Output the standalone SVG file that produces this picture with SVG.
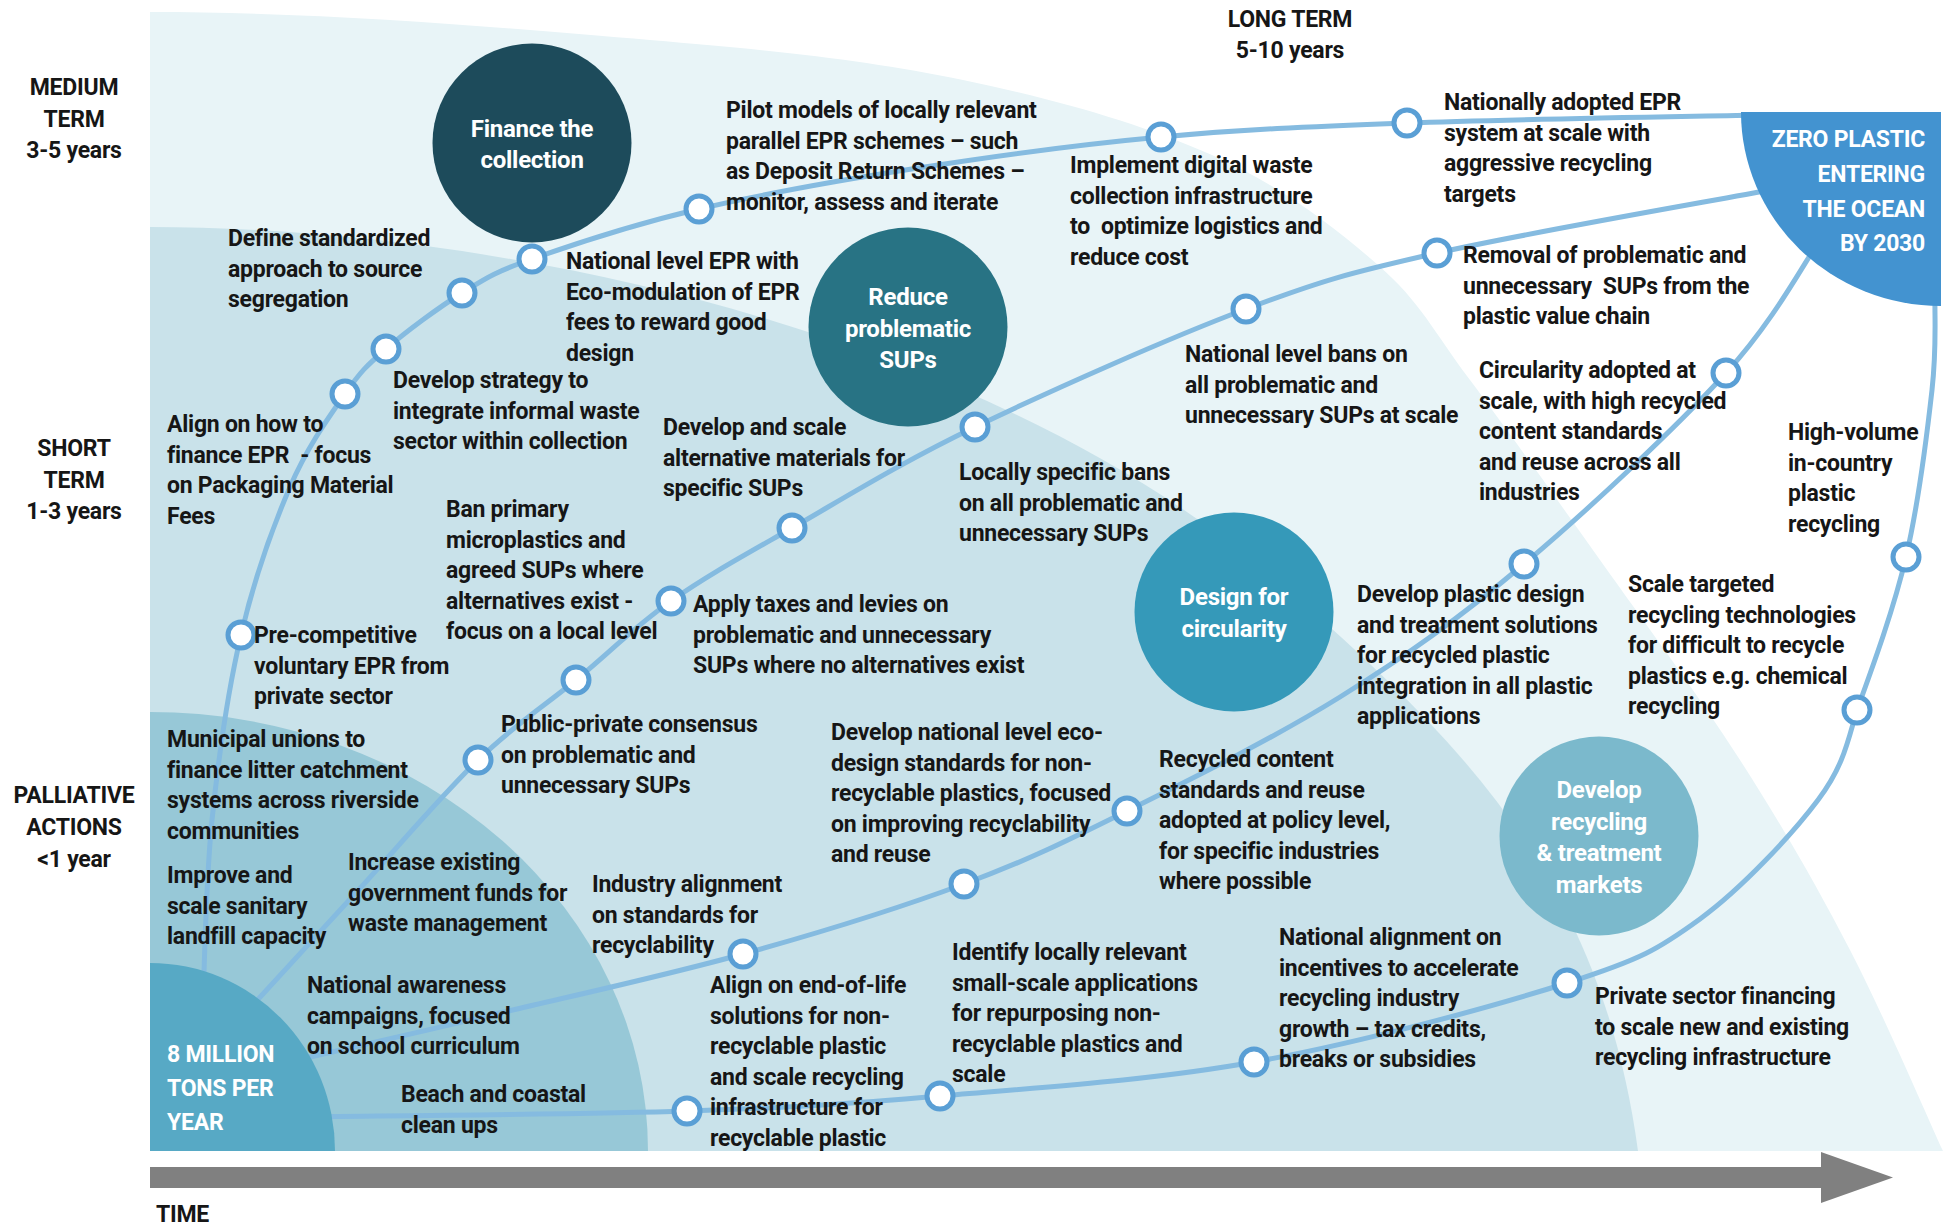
<svg xmlns="http://www.w3.org/2000/svg" width="1950" height="1227" viewBox="0 0 1950 1227">
<style>
text{font-family:"Roboto","Liberation Sans",sans-serif;font-weight:700;font-size:23px;fill:#161616;letter-spacing:-0.25px}
.w{fill:#ffffff}
.mid{text-anchor:middle}
.end{text-anchor:end}
.big{font-size:24px}
.conn{fill:none;stroke:#85bbe0;stroke-width:5;stroke-linecap:round}
.dot{fill:#ffffff;stroke:#5a9fd5;stroke-width:5}
</style>
<rect width="1950" height="1227" fill="#ffffff"/>
<g id="background">
<path d="M150,1151 L150,12 C333,12 514.5,28.7 650,40 C785.5,51.3 869.3,60.8 963,80 C1056.7,99.2 1142.8,124.2 1212,155 C1281.2,185.8 1335,227.5 1378,265 C1421,302.5 1433,330.8 1470,380 C1507,429.2 1555,496.7 1600,560 C1645,623.3 1698.3,695 1740,760 C1781.7,825 1816.2,884.8 1850,950 C1883.8,1015.2 1927.5,1117.5 1943,1151 Z" fill="#e8f4f7"/>
<path d="M150,1151 L150,227 C500,227 1000,330 1300,600 C1450,735 1600,870 1638,1151 Z" fill="#c9e2ea"/>
<path d="M150,1151 L150,712 A498,439 0 0 1 648,1151 Z" fill="#97c8d7"/>
</g>
<g id="connectors">
<path class="conn" d="M203,1000 C204.5,970 205.7,880.8 212,820 C218.3,759.2 228,690.5 241,635 C254,579.5 272.7,527.2 290,487 C307.3,446.8 329,417 345,394 C361,371 366.5,365.8 386,349 C405.5,332.2 437.7,308 462,293 C486.3,278 492.5,273 532,259 C571.5,245 634.7,224.2 699,209 C763.3,193.8 841,180 918,168 C995,156 1079.5,144.5 1161,137 C1242.5,129.5 1307.2,126.7 1407,123 C1506.8,119.3 1701.2,116.3 1760,115"/>
<path class="conn" d="M228,1032 C248.8,1009.3 311.3,941.3 353,896 C394.7,850.7 440.8,796 478,760 C515.2,724 543.8,706.5 576,680 C608.2,653.5 635,626.3 671,601 C707,575.7 741.3,557 792,528 C842.7,499 899.3,463.5 975,427 C1050.7,390.5 1169,338 1246,309 C1323,280 1349.7,272.8 1437,253 C1524.3,233.2 1714.5,200.5 1770,190"/>
<path class="conn" d="M280,1064 C316.7,1055.5 422.8,1031.3 500,1013 C577.2,994.7 665.7,975.5 743,954 C820.3,932.5 900,907.8 964,884 C1028,860.2 1064.3,842.2 1127,811 C1189.7,779.8 1273.8,738.2 1340,697 C1406.2,655.8 1459.7,618 1524,564 C1588.3,510 1676.7,427 1726,373 C1775.3,319 1804.3,262.2 1820,240"/>
<path class="conn" d="M300,1117 C364.5,1116 580.3,1114.5 687,1111 C793.7,1107.5 845.5,1104.2 940,1096 C1034.5,1087.8 1149.5,1080.8 1254,1062 C1358.5,1043.2 1492.7,1006.8 1567,983 C1641.3,959.2 1658.2,949.5 1700,919 C1741.8,888.5 1791.8,834.8 1818,800 C1844.2,765.2 1848,740 1857,710 C1871.7,669.5 1893.5,610.3 1906,557 C1918.5,503.7 1927.2,432.8 1932,390 C1936.8,347.2 1934.5,315 1935,300"/>
</g>
<g id="start-8-million">
<path d="M150,1151 L150,963 A185,188 0 0 1 335,1151 Z" fill="#57a9c5"/>
<text class="w" x="167" y="1062">8 MILLION<tspan x="167" dy="34">TONS PER</tspan><tspan x="167" dy="34">YEAR</tspan></text>
</g>
<g id="goal-zero-plastic">
<path d="M1741,112 L1941,112 L1941,306 A200,194 0 0 1 1741,112 Z" fill="#4393d0"/>
<text class="w end" x="1925" y="147">ZERO PLASTIC<tspan x="1925" dy="35">ENTERING</tspan><tspan x="1925" dy="35">THE OCEAN</tspan><tspan x="1925" dy="34">BY 2030</tspan></text>
</g>
<g id="finance-the-collection">
<circle cx="532" cy="143" r="99.5" fill="#1d4b5b"/>
<text class="w mid big" x="532" y="137">Finance the<tspan x="532" dy="31">collection</tspan></text>
</g>
<g id="reduce-problematic-sups">
<circle cx="908" cy="327" r="99.5" fill="#287384"/>
<text class="w mid big" x="908" y="305">Reduce<tspan x="908" dy="31.5">problematic</tspan><tspan x="908" dy="31.5">SUPs</tspan></text>
</g>
<g id="design-for-circularity">
<circle cx="1234" cy="612" r="99.5" fill="#3599b9"/>
<text class="w mid big" x="1234" y="605">Design for<tspan x="1234" dy="31.5">circularity</tspan></text>
</g>
<g id="develop-recycling-markets">
<circle cx="1599" cy="836" r="99.5" fill="#7bb9cc"/>
<text class="w mid big" x="1599" y="798">Develop<tspan x="1599" dy="31.5">recycling</tspan><tspan x="1599" dy="31.5">&amp; treatment</tspan><tspan x="1599" dy="31.5">markets</tspan></text>
</g>
<g id="m-precompetitive">
<circle class="dot" cx="241" cy="635" r="13"/>
<text x="254" y="643">Pre-competitive<tspan x="254" dy="30.5">voluntary EPR from</tspan><tspan x="254" dy="30.5">private sector</tspan></text>
</g>
<g id="m-align-finance-epr">
<circle class="dot" cx="345" cy="394" r="13"/>
<text x="167" y="432">Align on how to<tspan x="167" dy="30.5" xml:space="preserve">finance EPR  - focus</tspan><tspan x="167" dy="30.5">on Packaging Material</tspan><tspan x="167" dy="30.5">Fees</tspan></text>
</g>
<g id="m-informal-sector">
<circle class="dot" cx="386" cy="349" r="13"/>
<text x="393" y="388">Develop strategy to<tspan x="393" dy="30.5">integrate informal waste</tspan><tspan x="393" dy="30.5">sector within collection</tspan></text>
</g>
<g id="m-source-segregation">
<circle class="dot" cx="462" cy="293" r="13"/>
<text x="228" y="246">Define standardized<tspan x="228" dy="30.5">approach to source</tspan><tspan x="228" dy="30.5">segregation</tspan></text>
</g>
<g id="m-national-epr">
<circle class="dot" cx="532" cy="259" r="13"/>
<text x="566" y="269">National level EPR with<tspan x="566" dy="30.5">Eco-modulation of EPR</tspan><tspan x="566" dy="30.5">fees to reward good</tspan><tspan x="566" dy="30.5">design</tspan></text>
</g>
<g id="m-pilot-models">
<circle class="dot" cx="699" cy="209" r="13"/>
<text x="726" y="118">Pilot models of locally relevant<tspan x="726" dy="30.5">parallel EPR schemes – such</tspan><tspan x="726" dy="30.5">as Deposit Return Schemes –</tspan><tspan x="726" dy="30.5">monitor, assess and iterate</tspan></text>
</g>
<g id="m-digital-collection">
<circle class="dot" cx="1161" cy="137" r="13"/>
<text x="1070" y="173">Implement digital waste<tspan x="1070" dy="30.5">collection infrastructure</tspan><tspan x="1070" dy="30.5" xml:space="preserve">to  optimize logistics and</tspan><tspan x="1070" dy="30.5">reduce cost</tspan></text>
</g>
<g id="m-national-epr-scale">
<circle class="dot" cx="1407" cy="123" r="13"/>
<text x="1444" y="110">Nationally adopted EPR<tspan x="1444" dy="30.5">system at scale with</tspan><tspan x="1444" dy="30.5">aggressive recycling</tspan><tspan x="1444" dy="30.5">targets</tspan></text>
</g>
<g id="m-public-private">
<circle class="dot" cx="478" cy="760" r="13"/>
<text x="501" y="732">Public-private consensus<tspan x="501" dy="30.5">on problematic and</tspan><tspan x="501" dy="30.5">unnecessary SUPs</tspan></text>
</g>
<g id="m-ban-microplastics">
<circle class="dot" cx="576" cy="680" r="13"/>
<text x="446" y="517">Ban primary<tspan x="446" dy="30.5">microplastics and</tspan><tspan x="446" dy="30.5">agreed SUPs where</tspan><tspan x="446" dy="30.5">alternatives exist -</tspan><tspan x="446" dy="30.5">focus on a local level</tspan></text>
</g>
<g id="m-taxes-levies">
<circle class="dot" cx="671" cy="601" r="13"/>
<text x="693" y="612">Apply taxes and levies on<tspan x="693" dy="30.5">problematic and unnecessary</tspan><tspan x="693" dy="30.5">SUPs where no alternatives exist</tspan></text>
</g>
<g id="m-alternative-materials">
<circle class="dot" cx="792" cy="528" r="13"/>
<text x="663" y="435">Develop and scale<tspan x="663" dy="30.5">alternative materials for</tspan><tspan x="663" dy="30.5">specific SUPs</tspan></text>
</g>
<g id="m-local-bans">
<circle class="dot" cx="975" cy="427" r="13"/>
<text x="959" y="480">Locally specific bans<tspan x="959" dy="30.5">on all problematic and</tspan><tspan x="959" dy="30.5">unnecessary SUPs</tspan></text>
</g>
<g id="m-national-bans">
<circle class="dot" cx="1246" cy="309" r="13"/>
<text x="1185" y="362">National level bans on<tspan x="1185" dy="30.5">all problematic and</tspan><tspan x="1185" dy="30.5">unnecessary SUPs at scale</tspan></text>
</g>
<g id="m-removal-sups">
<circle class="dot" cx="1437" cy="253" r="13"/>
<text x="1463" y="263">Removal of problematic and<tspan x="1463" dy="30.5" xml:space="preserve">unnecessary  SUPs from the</tspan><tspan x="1463" dy="30.5">plastic value chain</tspan></text>
</g>
<g id="m-industry-alignment">
<circle class="dot" cx="743" cy="954" r="13"/>
<text x="592" y="892">Industry alignment<tspan x="592" dy="30.5">on standards for</tspan><tspan x="592" dy="30.5">recyclability</tspan></text>
</g>
<g id="m-eco-design">
<circle class="dot" cx="964" cy="884" r="13"/>
<text x="831" y="740">Develop national level eco-<tspan x="831" dy="30.5">design standards for non-</tspan><tspan x="831" dy="30.5">recyclable plastics, focused</tspan><tspan x="831" dy="30.5">on improving recyclability</tspan><tspan x="831" dy="30.5">and reuse</tspan></text>
</g>
<g id="m-recycled-content">
<circle class="dot" cx="1127" cy="811" r="13"/>
<text x="1159" y="767">Recycled content<tspan x="1159" dy="30.5">standards and reuse</tspan><tspan x="1159" dy="30.5">adopted at policy level,</tspan><tspan x="1159" dy="30.5">for specific industries</tspan><tspan x="1159" dy="30.5">where possible</tspan></text>
</g>
<g id="m-plastic-design">
<circle class="dot" cx="1524" cy="564" r="13"/>
<text x="1357" y="602">Develop plastic design<tspan x="1357" dy="30.5">and treatment solutions</tspan><tspan x="1357" dy="30.5">for recycled plastic</tspan><tspan x="1357" dy="30.5">integration in all plastic</tspan><tspan x="1357" dy="30.5">applications</tspan></text>
</g>
<g id="m-circularity-scale">
<circle class="dot" cx="1726" cy="373" r="13"/>
<text x="1479" y="378">Circularity adopted at<tspan x="1479" dy="30.5">scale, with high recycled</tspan><tspan x="1479" dy="30.5">content standards</tspan><tspan x="1479" dy="30.5">and reuse across all</tspan><tspan x="1479" dy="30.5">industries</tspan></text>
</g>
<g id="m-end-of-life">
<circle class="dot" cx="687" cy="1111" r="13"/>
<text x="710" y="993">Align on end-of-life<tspan x="710" dy="30.5">solutions for non-</tspan><tspan x="710" dy="30.5">recyclable plastic</tspan><tspan x="710" dy="30.5">and scale recycling</tspan><tspan x="710" dy="30.5">infrastructure for</tspan><tspan x="710" dy="30.5">recyclable plastic</tspan></text>
</g>
<g id="m-small-scale">
<circle class="dot" cx="940" cy="1096" r="13"/>
<text x="952" y="960">Identify locally relevant<tspan x="952" dy="30.5">small-scale applications</tspan><tspan x="952" dy="30.5">for repurposing non-</tspan><tspan x="952" dy="30.5">recyclable plastics and</tspan><tspan x="952" dy="30.5">scale</tspan></text>
</g>
<g id="m-incentives">
<circle class="dot" cx="1254" cy="1062" r="13"/>
<text x="1279" y="945">National alignment on<tspan x="1279" dy="30.5">incentives to accelerate</tspan><tspan x="1279" dy="30.5">recycling industry</tspan><tspan x="1279" dy="30.5">growth – tax credits,</tspan><tspan x="1279" dy="30.5">breaks or subsidies</tspan></text>
</g>
<g id="m-private-financing">
<circle class="dot" cx="1567" cy="983" r="13"/>
<text x="1595" y="1004">Private sector financing<tspan x="1595" dy="30.5">to scale new and existing</tspan><tspan x="1595" dy="30.5">recycling infrastructure</tspan></text>
</g>
<g id="m-targeted-recycling">
<circle class="dot" cx="1857" cy="710" r="13"/>
<text x="1628" y="592">Scale targeted<tspan x="1628" dy="30.5">recycling technologies</tspan><tspan x="1628" dy="30.5">for difficult to recycle</tspan><tspan x="1628" dy="30.5">plastics e.g. chemical</tspan><tspan x="1628" dy="30.5">recycling</tspan></text>
</g>
<g id="m-high-volume">
<circle class="dot" cx="1906" cy="557" r="13"/>
<text x="1788" y="440">High-volume<tspan x="1788" dy="30.5">in-country</tspan><tspan x="1788" dy="30.5">plastic</tspan><tspan x="1788" dy="30.5">recycling</tspan></text>
</g>
<g id="palliative-actions">
<text x="167" y="747">Municipal unions to<tspan x="167" dy="30.5">finance litter catchment</tspan><tspan x="167" dy="30.5">systems across riverside</tspan><tspan x="167" dy="30.5">communities</tspan></text>
<text x="167" y="883">Improve and<tspan x="167" dy="30.5">scale sanitary</tspan><tspan x="167" dy="30.5">landfill capacity</tspan></text>
<text x="348" y="870">Increase existing<tspan x="348" dy="30.5">government funds for</tspan><tspan x="348" dy="30.5">waste management</tspan></text>
<text x="307" y="993">National awareness<tspan x="307" dy="30.5">campaigns, focused</tspan><tspan x="307" dy="30.5">on school curriculum</tspan></text>
<text x="401" y="1102">Beach and coastal<tspan x="401" dy="30.5">clean ups</tspan></text>
</g>
<g id="timeline-labels">
<text class="mid" x="74" y="95">MEDIUM<tspan x="74" dy="31.5">TERM</tspan><tspan x="74" dy="31.5">3-5 years</tspan></text>
<text class="mid" x="74" y="456">SHORT<tspan x="74" dy="31.5">TERM</tspan><tspan x="74" dy="31.5">1-3 years</tspan></text>
<text class="mid" x="74" y="803">PALLIATIVE<tspan x="74" dy="32">ACTIONS</tspan><tspan x="74" dy="32">&lt;1 year</tspan></text>
<text class="mid" x="1290" y="27">LONG TERM<tspan x="1290" dy="31">5-10 years</tspan></text>
</g>
<g id="time-axis">
<rect x="150" y="1167" width="1671" height="21" fill="#808080"/>
<polygon points="1821,1152 1893,1177.5 1821,1203" fill="#808080"/>
<text x="156" y="1222">TIME</text>
</g>
</svg>
